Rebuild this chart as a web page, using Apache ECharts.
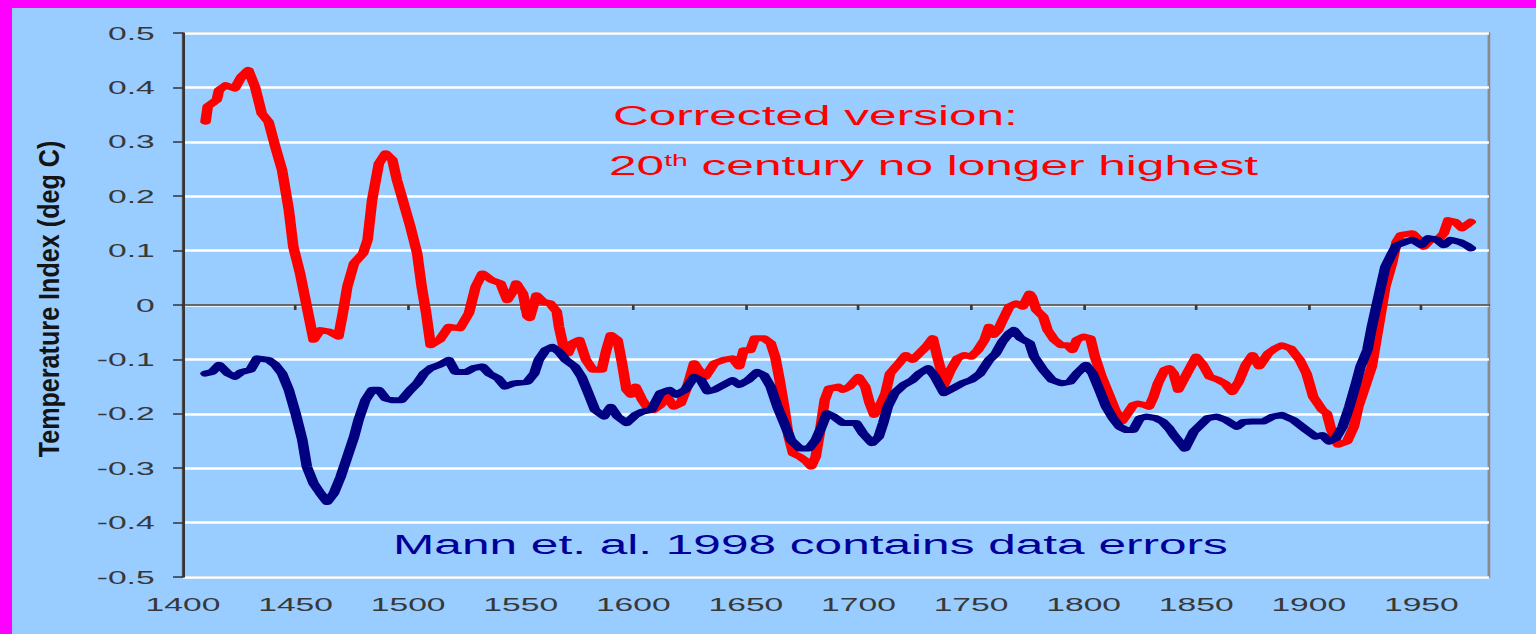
<!DOCTYPE html>
<html>
<head>
<meta charset="utf-8">
<script src="https://cdn.jsdelivr.net/npm/echarts@6/dist/echarts.min.js"></script>
<style>
html,body{margin:0;padding:0;background:#FF00FF;width:1536px;height:634px;overflow:hidden}
#wrap{position:absolute;left:12px;top:8px;width:1524px;height:626px;background:#99CCFF;overflow:hidden}
#chart{width:861px;height:626px;transform:scaleX(1.770035);transform-origin:0 0}
</style>
</head>
<body>
<div id="wrap"><div id="chart"></div></div>
<script>
// ---- data ----
const xTickLabels = [1400,1450,1500,1550,1600,1650,1700,1750,1800,1850,1900,1950];
const yTickLabels = [-0.5,-0.4,-0.3,-0.2,-0.1,0,0.1,0.2,0.3,0.4,0.5];

const correctedYears = [1410,1411,1415,1416,1419,1423,1426,1429,1432,1435,1438,1441,1444,1447,1449,1452,1455,1458,1461,1465,1469,1471,1473,1476,1480,1482,1484,1487,1490,1493,1495,1498,1501,1504,1506,1508,1510,1514,1518,1523,1527,1530,1533,1537,1541,1544,1547,1548,1551,1553,1554,1557,1560,1563,1566,1567,1569,1571,1573,1576,1579,1582,1586,1588,1590,1593,1595,1597,1599,1601,1604,1606,1609,1612,1615,1618,1621,1624,1627,1629,1632,1636,1640,1644,1647,1649,1652,1654,1658,1661,1663,1665,1667,1669,1671,1674,1677,1679,1681,1683,1685,1687,1691,1693,1696,1700,1703,1705,1707,1710,1712,1714,1718,1721,1724,1727,1730,1733,1735,1737,1738,1741,1744,1747,1750,1753,1756,1758,1760,1762,1764,1767,1770,1773,1776,1777,1779,1782,1784,1787,1790,1793,1795,1797,1800,1803,1805,1808,1811,1814,1817,1819,1822,1824,1827,1829,1831,1833,1836,1838,1840,1842,1846,1850,1853,1856,1860,1863,1866,1869,1872,1875,1878,1882,1885,1888,1892,1896,1899,1902,1906,1908,1910,1913,1917,1920,1922,1925,1928,1930,1932,1934,1937,1939,1941,1946,1949,1951,1954,1958,1960,1962,1965,1968,1971,1972];
const correctedValues = [0.337,0.365,0.377,0.395,0.404,0.398,0.420,0.432,0.401,0.352,0.337,0.291,0.248,0.175,0.107,0.058,-0.003,-0.064,-0.046,-0.049,-0.058,-0.015,0.034,0.077,0.095,0.120,0.193,0.260,0.279,0.267,0.230,0.187,0.144,0.095,0.034,-0.015,-0.074,-0.064,-0.040,-0.043,-0.015,0.034,0.058,0.046,0.040,0.009,0.028,0.040,0.021,-0.021,-0.024,0.018,0.006,0.003,-0.012,-0.040,-0.077,-0.089,-0.070,-0.064,-0.101,-0.119,-0.119,-0.083,-0.055,-0.064,-0.107,-0.156,-0.165,-0.150,-0.175,-0.187,-0.193,-0.184,-0.169,-0.187,-0.181,-0.150,-0.107,-0.119,-0.132,-0.107,-0.101,-0.098,-0.113,-0.083,-0.083,-0.061,-0.061,-0.070,-0.095,-0.138,-0.187,-0.242,-0.273,-0.279,-0.288,-0.297,-0.279,-0.230,-0.175,-0.153,-0.150,-0.156,-0.150,-0.132,-0.150,-0.181,-0.202,-0.181,-0.162,-0.126,-0.107,-0.092,-0.101,-0.089,-0.077,-0.061,-0.095,-0.126,-0.147,-0.119,-0.098,-0.092,-0.095,-0.083,-0.064,-0.040,-0.055,-0.046,-0.028,-0.003,0.003,-0.003,0.021,0.015,-0.009,-0.021,-0.046,-0.064,-0.074,-0.074,-0.083,-0.064,-0.058,-0.061,-0.095,-0.132,-0.162,-0.193,-0.214,-0.202,-0.184,-0.181,-0.184,-0.187,-0.169,-0.144,-0.119,-0.116,-0.126,-0.156,-0.125,-0.095,-0.110,-0.132,-0.138,-0.145,-0.160,-0.140,-0.110,-0.092,-0.113,-0.089,-0.080,-0.074,-0.080,-0.101,-0.126,-0.169,-0.193,-0.199,-0.230,-0.257,-0.251,-0.224,-0.187,-0.150,-0.113,-0.064,-0.015,0.034,0.077,0.116,0.129,0.132,0.120,0.107,0.120,0.123,0.132,0.156,0.153,0.141,0.150,0.153];

const mannYears = [1410,1413,1416,1420,1423,1426,1430,1433,1438,1441,1444,1447,1450,1453,1455,1458,1461,1464,1467,1470,1473,1476,1478,1481,1484,1487,1490,1493,1497,1501,1504,1507,1510,1514,1518,1521,1526,1529,1533,1536,1540,1543,1547,1553,1556,1558,1561,1564,1567,1570,1574,1577,1580,1583,1587,1590,1593,1597,1601,1604,1608,1612,1616,1619,1623,1627,1630,1633,1636,1640,1644,1647,1651,1655,1658,1661,1664,1667,1670,1674,1678,1681,1683,1686,1689,1693,1699,1702,1706,1709,1711,1713,1716,1720,1724,1727,1731,1734,1738,1742,1746,1750,1754,1758,1761,1764,1767,1769,1772,1776,1778,1782,1786,1790,1794,1797,1801,1804,1807,1810,1813,1816,1819,1822,1825,1828,1832,1835,1838,1840,1845,1849,1855,1859,1863,1868,1871,1875,1880,1884,1888,1893,1899,1903,1906,1909,1912,1915,1918,1921,1923,1926,1928,1930,1932,1934,1937,1939,1943,1946,1950,1953,1957,1960,1963,1967,1970,1972];
const mannValues = [-0.126,-0.123,-0.110,-0.126,-0.132,-0.123,-0.119,-0.098,-0.101,-0.110,-0.126,-0.156,-0.199,-0.248,-0.297,-0.328,-0.346,-0.362,-0.346,-0.316,-0.279,-0.242,-0.211,-0.175,-0.156,-0.156,-0.172,-0.175,-0.175,-0.156,-0.144,-0.126,-0.116,-0.110,-0.101,-0.123,-0.123,-0.116,-0.113,-0.126,-0.135,-0.150,-0.144,-0.141,-0.126,-0.101,-0.083,-0.077,-0.086,-0.101,-0.113,-0.132,-0.162,-0.193,-0.205,-0.187,-0.205,-0.217,-0.202,-0.196,-0.193,-0.162,-0.156,-0.165,-0.156,-0.132,-0.138,-0.159,-0.156,-0.147,-0.138,-0.147,-0.138,-0.123,-0.129,-0.150,-0.187,-0.217,-0.248,-0.264,-0.264,-0.248,-0.230,-0.199,-0.205,-0.217,-0.217,-0.236,-0.254,-0.242,-0.217,-0.187,-0.162,-0.147,-0.138,-0.126,-0.116,-0.132,-0.162,-0.153,-0.144,-0.138,-0.126,-0.101,-0.089,-0.067,-0.052,-0.046,-0.061,-0.070,-0.095,-0.119,-0.138,-0.144,-0.141,-0.126,-0.110,-0.126,-0.156,-0.187,-0.208,-0.224,-0.230,-0.230,-0.208,-0.205,-0.208,-0.214,-0.227,-0.239,-0.264,-0.232,-0.208,-0.205,-0.211,-0.224,-0.215,-0.214,-0.214,-0.205,-0.202,-0.211,-0.230,-0.242,-0.239,-0.251,-0.245,-0.224,-0.187,-0.144,-0.113,-0.083,-0.040,-0.003,0.034,0.070,0.095,0.110,0.116,0.120,0.110,0.123,0.120,0.110,0.120,0.116,0.110,0.104];

const annotCorrected1 = 'Corrected version:';
const annotCorrected2 = ['20', 'th', ' century no longer highest'];
const annotMann = 'Mann et. al. 1998 contains data errors';
const yTitle = 'Temperature Index (deg C)';

// ---- chart ----
const FONT = "'Liberation Sans', Arial, Helvetica, sans-serif";
const chart = echarts.init(document.getElementById('chart'), null, {renderer: 'svg'});

function pairs(xs, ys) { return xs.map((x, i) => [x, ys[i]]); }
function fmtY(v) { const r = Math.round(v * 10) / 10; return r === 0 ? '0' : String(r); }
function fmtX(v) { return String(Math.round(v)); }

const option = {
  animation: false,
  backgroundColor: '#99CCFF',
  grid: {
    left: 96.6, right: 26.6, top: 25, bottom: 57,
    show: true, backgroundColor: 'transparent',
    borderColor: '#8a8a8a', borderWidth: 1.5
  },
  xAxis: [
    {
      type: 'value', min: 1400, max: 1980, interval: 50, position: 'bottom',
      axisLine: {show: false, onZero: false},
      axisTick: {show: false},
      splitLine: {show: false},
      axisLabel: {
        customValues: xTickLabels, formatter: fmtX,
        fontFamily: FONT, fontSize: 19, color: '#383838', margin: 18
      }
    },
    {
      type: 'value', min: 1400, max: 1980, interval: 50, position: 'bottom',
      axisLine: {show: true, onZero: true, lineStyle: {color: '#3a3a3a', width: 1.5}},
      axisTick: {show: true, inside: false, length: 5, customValues: xTickLabels, lineStyle: {color: '#3a3a3a', width: 1.5}},
      axisLabel: {show: false},
      splitLine: {show: false}
    }
  ],
  yAxis: {
    type: 'value', min: -0.5, max: 0.5, interval: 0.1,
    axisLine: {show: true, onZero: false, lineStyle: {color: '#333333', width: 1.5}},
    axisTick: {show: true, inside: false, length: 5.6, lineStyle: {color: '#333333', width: 1.5}},
    axisLabel: {
      customValues: yTickLabels,
      fontFamily: FONT, fontSize: 19, color: '#383838', margin: 16,
      formatter: fmtY
    },
    splitLine: {show: true, lineStyle: {color: '#FFFFFF', width: 2.5}}
  },
  series: [
    {
      name: 'Corrected version', type: 'line', xAxisIndex: 0,
      data: pairs(correctedYears, correctedValues),
      showSymbol: false, smooth: false,
      lineStyle: {color: '#FF0000', width: 6, join: 'round', cap: 'round'},
      z: 3
    },
    {
      name: 'Mann et al. 1998', type: 'line', xAxisIndex: 0,
      data: pairs(mannYears, mannValues),
      showSymbol: false, smooth: false,
      lineStyle: {color: '#000080', width: 6, join: 'round', cap: 'round'},
      z: 4
    }
  ],
  graphic: [
    {
      type: 'text', x: 20.9, y: 291, rotation: Math.PI / 2, scaleX: 1.48,
      style: {text: yTitle, fontFamily: FONT, fontSize: 17, fontWeight: 'bold',
              fill: '#141414', align: 'center', verticalAlign: 'middle'}
    },
    {
      type: 'text', x: 339.5, y: 108,
      style: {text: annotCorrected1, fontFamily: FONT, fontSize: 28,
              fill: '#FF0000', align: 'left', verticalAlign: 'middle'}
    },
    {
      type: 'text', x: 337.3, y: 158,
      style: {
        text: '{a|' + annotCorrected2[0] + '}{s|' + annotCorrected2[1] + '}{a|' + annotCorrected2[2] + '}',
        align: 'left', verticalAlign: 'middle',
        rich: {
          a: {fontFamily: FONT, fontSize: 28, fill: '#FF0000', color: '#FF0000'},
          s: {fontFamily: FONT, fontSize: 16, fill: '#FF0000', color: '#FF0000', verticalAlign: 'top'}
        }
      }
    },
    {
      type: 'text', x: 215.3, y: 537,
      style: {text: annotMann, fontFamily: FONT, fontSize: 28,
              fill: '#000099', align: 'left', verticalAlign: 'middle'}
    }
  ]
};
chart.setOption(option);
</script>
</body>
</html>
